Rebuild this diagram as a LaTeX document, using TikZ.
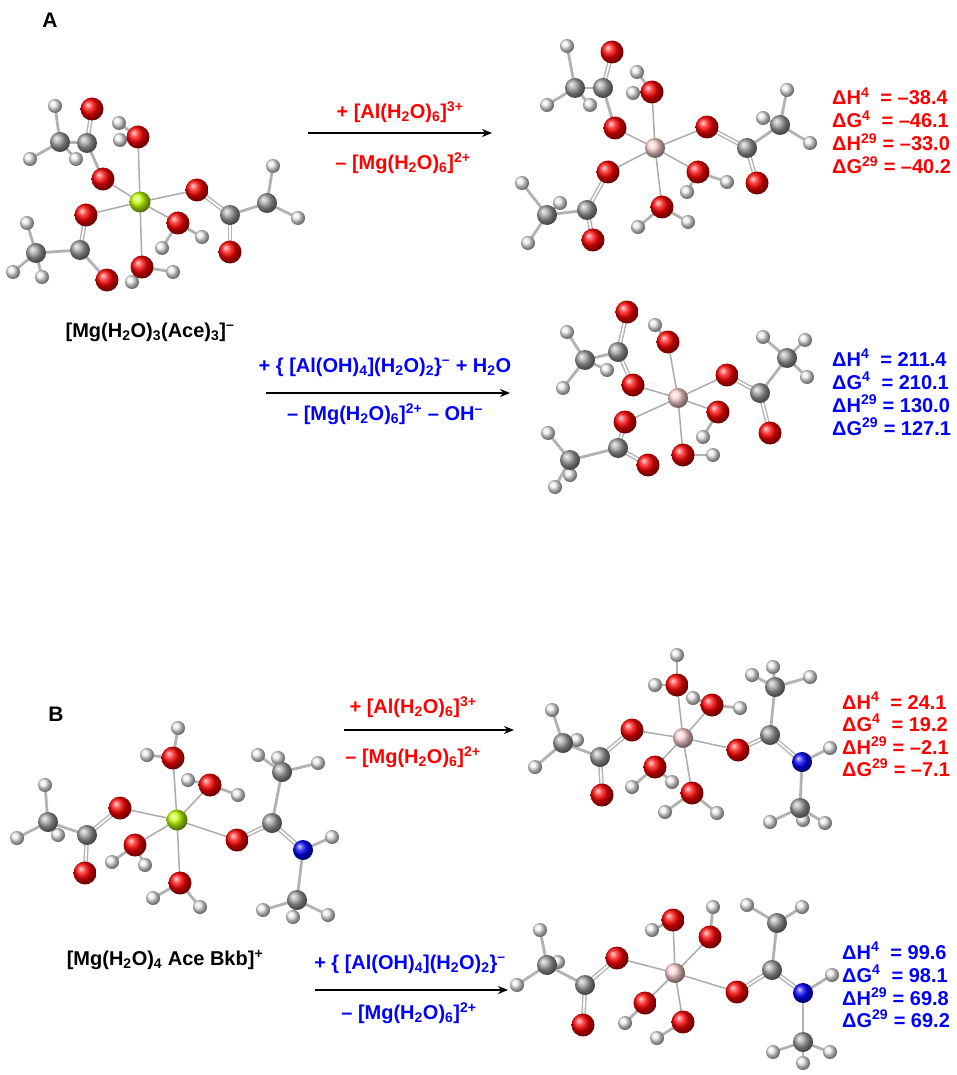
\documentclass[tikz,border=0pt]{standalone}
\usepackage{fontspec}
\setmainfont{Liberation Sans}
\usetikzlibrary{arrows.meta}
\pgfdeclarelayer{background}
\pgfsetlayers{background,main}
\newcommand\ssup[1]{\textsuperscript{#1}}
\newcommand\ssub[1]{\textsubscript{#1}}
\newcommand\at[4]{\node[#2] (#1) at (#3,#4) {};}
\tikzset{
 atm/.style={circle,inner sep=0pt,shading=ball},
 ox/.style={atm,minimum size=23pt,ball color=red},
 cb/.style={atm,minimum size=20pt,ball color=gray!75},
 hy/.style={atm,minimum size=14pt,ball color=white!85!gray},
 ni/.style={atm,minimum size=20pt,ball color=blue},
 mg/.style={atm,minimum size=21pt,ball color=yellow!75!green},
 al/.style={atm,minimum size=20pt,ball color=pink!70!white},
 bondst/.style={line width=2.8pt,draw=gray!60,line cap=round},
 mbondst/.style={line width=1.5pt,draw=gray!65},
 dbondst/.style={line width=1.4pt,draw=gray!60,double=white,double distance=1.7pt},
 txt/.style={font=\bfseries\fontsize{20}{23}\selectfont,inner sep=0pt},
 rxn/.style={line width=2pt,-{Stealth[length=10pt,width=8pt]}},
}
\newcommand\bd[2]{\draw[bondst] (#1.center) -- (#2.center);}
\newcommand\mb[2]{\draw[mbondst] (#1.center) -- (#2.center);}
\newcommand\db[2]{\draw[dbondst] (#1.center) -- (#2.center);}
\begin{document}
\begin{tikzpicture}[x=1pt,y=-1pt]
\useasboundingbox (0,0) rectangle (956,1075);
\node[txt,font=\bfseries\fontsize{21}{23}\selectfont] (lA) at (50,20) {A};
\node[txt,font=\bfseries\fontsize{21}{23}\selectfont] (lB) at (56,714) {B};

% ===== molecule a (Mg, A)
\foreach \n/\x/\y in {aw1a/119/123,aw1b/120/140,a1a/55/106,a1b/30/159,a1c/76/159,a2a/273/166,a2b/298/218,a3a/27/223,a3b/13/272,a3c/42/277,aw2a/162/248,aw2b/202/237,aw3a/132/282,aw3b/173/272}{\at{\n}{hy}{\x}{\y}}
\foreach \n/\x/\y in {aC1/87/143,aMe1/60/142,aC2/230/215,aMe2/267/203,aC3/80/250,aMe3/36/253}{\at{\n}{cb}{\x}{\y}}
\foreach \n/\x/\y in {aOw1/138/137,aO1/103/179,aO1b/92/109,aO2/197/190,aO2b/230/252,aO3/86/215,aO3b/107/280,aOw2/178/223,aOw3/142/267}{\at{\n}{ox}{\x}{\y}}
\at{aM}{mg}{140}{202}
% ===== molecule b (Al, A top)
\foreach \n/\x/\y in {bw1a/637/72,bw1b/633/93,b1a/567/46,b1b/547/105,b1c/590/105,b2a/787/90,b2b/810/143,b2c/763/118,b3a/522/183,b3b/528/243,b3c/560/203,bw2a/687/192,bw2b/727/182,bw3a/638/227,bw3b/688/222}{\at{\n}{hy}{\x}{\y}}
\foreach \n/\x/\y in {bC1/603/88,bMe1/575/88,bC2/747/148,bMe2/780/125,bC3/587/210,bMe3/547/215}{\at{\n}{cb}{\x}{\y}}
\foreach \n/\x/\y in {bOw1/652/92,bO1/615/128,bO1b/612/52,bO2/707/127,bO2b/757/183,bO3/608/172,bO3b/593/240,bOw2/698/172,bOw3/662/207}{\at{\n}{ox}{\x}{\y}}
\at{bM}{al}{655}{148}
% ===== molecule c (Al, A bottom)
\foreach \n/\x/\y in {cw1a/655/325,c1a/567/332,c1b/563/388,c1c/607/370,c2a/763/337,c2b/805/340,c2c/807/377,c3a/548/433,c3b/555/487,c3c/570/475,cw2a/703/437,cw3a/713/455}{\at{\n}{hy}{\x}{\y}}
\foreach \n/\x/\y in {cC1/618/352,cMe1/585/360,cC2/760/393,cMe2/787/358,cC3/618/448,cMe3/570/460}{\at{\n}{cb}{\x}{\y}}
\foreach \n/\x/\y in {cOw1/668/342,cO1/633/385,cO1b/627/312,cO2/727/375,cO2b/770/433,cO3/625/422,cO3b/648/465,cOw2/718/412,cOw3/683/455}{\at{\n}{ox}{\x}{\y}}
\at{cM}{al}{678}{398}
% ===== molecule d (Mg, B)
\foreach \n/\x/\y in {dw1a/178/728,dw1b/147/755,dw2a/188/780,dw2b/238/795,d1a/45/785,d1b/17/838,d1c/58/835,d2a/258/755,d2b/318/763,d2c/278/758,dHN/332/837,dn1/263/910,dn2/293/917,dn3/328/915,dw3a/112/862,dw3b/145/865,dw4a/153/898,dw4b/200/907}{\at{\n}{hy}{\x}{\y}}
\foreach \n/\x/\y in {dC1/87/835,dMe1/48/822,dC2/272/823,dMe2/282/772,dMeN/297/900}{\at{\n}{cb}{\x}{\y}}
\at{dN}{ni}{303}{850}
\foreach \n/\x/\y in {dOw1/173/758,dOw2/210/785,dO1/120/808,dO1b/85/873,dO2/237/840,dOw3/135/845,dOw4/180/883}{\at{\n}{ox}{\x}{\y}}
\at{dM}{mg}{177}{820}
% ===== molecule e (Al, B top)
\foreach \n/\x/\y in {ew1a/677/655,ew1b/655/685,ew2a/693/698,ew2b/740/708,e1a/552/710,e1b/535/767,e1c/577/740,e2a/752/675,e2b/810/677,e2c/773/667,eHN/830/748,en1/770/822,en2/825/823,en3/803/820,ew3a/632/787,ew3b/672/782,ew4a/665/812,ew4b/717/813}{\at{\n}{hy}{\x}{\y}}
\foreach \n/\x/\y in {eC1/600/757,eMe1/563/743,eC2/770/735,eMe2/775/687,eMeN/800/808}{\at{\n}{cb}{\x}{\y}}
\at{eN}{ni}{802}{762}
\foreach \n/\x/\y in {eOw1/677/685,eOw2/712/705,eO1/632/730,eO1b/602/795,eO2/738/750,eOw3/655/767,eOw4/692/793}{\at{\n}{ox}{\x}{\y}}
\at{eM}{al}{683}{738}
% ===== molecule f (Al, B bottom)
\foreach \n/\x/\y in {fw1a/652/930,fw2a/713/907,f1a/540/930,f1b/517/985,f1c/558/962,f2a/747/905,f2b/802/907,fHN/832/975,fn1/773/1052,fn2/830/1052,fn3/803/1063,fw3a/625/1023,fw4a/657/1038}{\at{\n}{hy}{\x}{\y}}
\foreach \n/\x/\y in {fC1/585/985,fMe1/547/965,fC2/772/970,fMe2/777/923,fMeN/803/1042}{\at{\n}{cb}{\x}{\y}}
\at{fN}{ni}{803}{993}
\foreach \n/\x/\y in {fOw1/673/920,fOw2/710/937,fO1/617/958,fO1b/583/1025,fO2/737/992,fOw3/645/1003,fOw4/683/1022}{\at{\n}{ox}{\x}{\y}}
\at{fM}{al}{675}{973}

\begin{pgfonlayer}{background}
\fill[white] (0,0) rectangle (956,1075);
% a
\foreach \o in {aOw1,aO1,aO2,aO3,aOw2,aOw3}{\mb{aM}{\o}}
\bd{aOw1}{aw1a}\bd{aOw1}{aw1b}\bd{aOw2}{aw2a}\bd{aOw2}{aw2b}\bd{aOw3}{aw3a}\bd{aOw3}{aw3b}
\bd{aO1}{aC1}\db{aC1}{aO1b}\bd{aC1}{aMe1}\bd{aMe1}{a1a}\bd{aMe1}{a1b}\bd{aMe1}{a1c}
\db{aO2}{aC2}\db{aC2}{aO2b}\bd{aC2}{aMe2}\bd{aMe2}{a2a}\bd{aMe2}{a2b}
\db{aO3}{aC3}\bd{aC3}{aO3b}\bd{aC3}{aMe3}\bd{aMe3}{a3a}\bd{aMe3}{a3b}\bd{aMe3}{a3c}
% b
\foreach \o in {bOw1,bO1,bO2,bO3,bOw2,bOw3}{\mb{bM}{\o}}
\bd{bOw1}{bw1a}\bd{bOw1}{bw1b}\bd{bOw2}{bw2a}\bd{bOw2}{bw2b}\bd{bOw3}{bw3a}\bd{bOw3}{bw3b}
\bd{bO1}{bC1}\db{bC1}{bO1b}\bd{bC1}{bMe1}\bd{bMe1}{b1a}\bd{bMe1}{b1b}\bd{bMe1}{b1c}
\db{bO2}{bC2}\db{bC2}{bO2b}\bd{bC2}{bMe2}\bd{bMe2}{b2a}\bd{bMe2}{b2b}\bd{bMe2}{b2c}
\db{bO3}{bC3}\db{bC3}{bO3b}\bd{bC3}{bMe3}\bd{bMe3}{b3a}\bd{bMe3}{b3b}\bd{bMe3}{b3c}
% c
\foreach \o in {cOw1,cO1,cO2,cO3,cOw2,cOw3}{\mb{cM}{\o}}
\bd{cOw1}{cw1a}\bd{cOw2}{cw2a}\bd{cOw3}{cw3a}
\db{cO1}{cC1}\db{cC1}{cO1b}\bd{cC1}{cMe1}\bd{cMe1}{c1a}\bd{cMe1}{c1b}\bd{cMe1}{c1c}
\db{cO2}{cC2}\db{cC2}{cO2b}\bd{cC2}{cMe2}\bd{cMe2}{c2a}\bd{cMe2}{c2b}\bd{cMe2}{c2c}
\db{cO3}{cC3}\db{cC3}{cO3b}\bd{cC3}{cMe3}\bd{cMe3}{c3a}\bd{cMe3}{c3b}\bd{cMe3}{c3c}
% d
\foreach \o in {dOw1,dOw2,dO1,dO2,dOw3,dOw4}{\mb{dM}{\o}}
\bd{dOw1}{dw1a}\bd{dOw1}{dw1b}\bd{dOw2}{dw2a}\bd{dOw2}{dw2b}\bd{dOw3}{dw3a}\bd{dOw3}{dw3b}\bd{dOw4}{dw4a}\bd{dOw4}{dw4b}
\db{dO1}{dC1}\db{dC1}{dO1b}\bd{dC1}{dMe1}\bd{dMe1}{d1a}\bd{dMe1}{d1b}\bd{dMe1}{d1c}
\db{dO2}{dC2}\bd{dC2}{dMe2}\bd{dMe2}{d2a}\bd{dMe2}{d2b}\bd{dMe2}{d2c}\db{dC2}{dN}\bd{dN}{dHN}\bd{dN}{dMeN}\bd{dMeN}{dn1}\bd{dMeN}{dn2}\bd{dMeN}{dn3}
% e
\foreach \o in {eOw1,eOw2,eO1,eO2,eOw3,eOw4}{\mb{eM}{\o}}
\bd{eOw1}{ew1a}\bd{eOw1}{ew1b}\bd{eOw2}{ew2a}\bd{eOw2}{ew2b}\bd{eOw3}{ew3a}\bd{eOw3}{ew3b}\bd{eOw4}{ew4a}\bd{eOw4}{ew4b}
\db{eO1}{eC1}\db{eC1}{eO1b}\bd{eC1}{eMe1}\bd{eMe1}{e1a}\bd{eMe1}{e1b}\bd{eMe1}{e1c}
\db{eO2}{eC2}\bd{eC2}{eMe2}\bd{eMe2}{e2a}\bd{eMe2}{e2b}\bd{eMe2}{e2c}\db{eC2}{eN}\bd{eN}{eHN}\bd{eN}{eMeN}\bd{eMeN}{en1}\bd{eMeN}{en2}\bd{eMeN}{en3}
% f
\foreach \o in {fOw1,fOw2,fO1,fO2,fOw3,fOw4}{\mb{fM}{\o}}
\bd{fOw1}{fw1a}\bd{fOw2}{fw2a}\bd{fOw3}{fw3a}\bd{fOw4}{fw4a}
\db{fO1}{fC1}\db{fC1}{fO1b}\bd{fC1}{fMe1}\bd{fMe1}{f1a}\bd{fMe1}{f1b}\bd{fMe1}{f1c}
\db{fO2}{fC2}\bd{fC2}{fMe2}\bd{fMe2}{f2a}\bd{fMe2}{f2b}\db{fC2}{fN}\bd{fN}{fHN}\bd{fN}{fMeN}\bd{fMeN}{fn1}\bd{fMeN}{fn2}\bd{fMeN}{fn3}
\end{pgfonlayer}

% ===== labels
\node[txt] (nA) at (150,332) {[Mg(H\ssub{2}O)\ssub{3}(Ace)\ssub{3}]\ssup{–}};
\node[txt] (nB) at (165,960) {[Mg(H\ssub{2}O)\ssub{4} Ace Bkb]\ssup{+}};

% reaction arrows
\coordinate (r1s) at (308,133); \coordinate (r1e) at (492,133);
\draw[rxn] (r1s) -- (r1e);
\node[txt,red] (r1t) at (400,112) {+ [Al(H\ssub{2}O)\ssub{6}]\ssup{3+}};
\node[txt,red] (r1b) at (403,163) {– [Mg(H\ssub{2}O)\ssub{6}]\ssup{2+}};

\coordinate (r2s) at (266,393); \coordinate (r2e) at (510,393);
\draw[rxn] (r2s) -- (r2e);
\node[txt,blue] (r2t) at (385,367) {+ \{ [Al(OH)\ssub{4}](H\ssub{2}O)\ssub{2}\}\ssup{–} + H\ssub{2}O};
\node[txt,blue] (r2b) at (385,414) {– [Mg(H\ssub{2}O)\ssub{6}]\ssup{2+} – OH\ssup{–}};

\coordinate (r3s) at (344,730); \coordinate (r3e) at (514,730);
\draw[rxn] (r3s) -- (r3e);
\node[txt,red] (r3t) at (413,707) {+ [Al(H\ssub{2}O)\ssub{6}]\ssup{3+}};
\node[txt,red] (r3b) at (413,757) {– [Mg(H\ssub{2}O)\ssub{6}]\ssup{2+}};

\coordinate (r4s) at (315,990); \coordinate (r4e) at (508,990);
\draw[rxn] (r4s) -- (r4e);
\node[txt,blue] (r4t) at (410,964) {+ \{ [Al(OH)\ssub{4}](H\ssub{2}O)\ssub{2}\}\ssup{–}};
\node[txt,blue] (r4b) at (409,1013) {– [Mg(H\ssub{2}O)\ssub{6}]\ssup{2+}};

% energies
\foreach \nm/\x/\y/\col/\t in {
 e1/832/105/red/{ΔH\ssup{4}\ \ = –38.4},
 e2/832/128/red/{ΔG\ssup{4}\ \ = –46.1},
 e3/832/151/red/{ΔH\ssup{29} = –33.0},
 e4/832/174/red/{ΔG\ssup{29} = –40.2},
 e5/832/366/blue/{ΔH\ssup{4}\ \ = 211.4},
 e6/832/389/blue/{ΔG\ssup{4}\ \ = 210.1},
 e7/832/412/blue/{ΔH\ssup{29} = 130.0},
 e8/832/435/blue/{ΔG\ssup{29} = 127.1},
 e9/842/709/red/{ΔH\ssup{4}\ \ = 24.1},
 e10/842/731/red/{ΔG\ssup{4}\ \ = 19.2},
 e11/842/754/red/{ΔH\ssup{29} = –2.1},
 e12/842/776/red/{ΔG\ssup{29} = –7.1},
 e13/842/959/blue/{ΔH\ssup{4}\ \ = 99.6},
 e14/842/982/blue/{ΔG\ssup{4}\ \ = 98.1},
 e15/842/1005/blue/{ΔH\ssup{29} = 69.8},
 e16/842/1027/blue/{ΔG\ssup{29} = 69.2}}
 {\node[txt,text=\col,anchor=base west] (\nm) at (\x,\y) {\t};}
\end{tikzpicture}
\end{document}
